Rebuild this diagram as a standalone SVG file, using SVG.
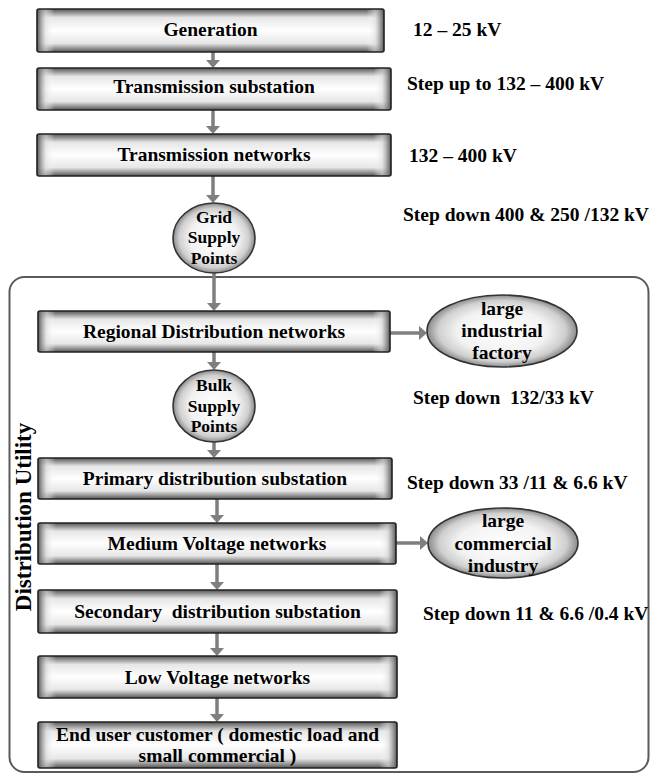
<svg xmlns="http://www.w3.org/2000/svg" width="655" height="773" viewBox="0 0 655 773" font-family="'Liberation Serif', 'Times New Roman', serif">
<style>
.t,.r,.c{font-weight:bold;fill:#000}
.t{font-size:19.5px;text-anchor:middle;white-space:pre}
.r{font-size:19.5px;text-anchor:start;white-space:pre}
.c{font-size:17.5px;text-anchor:middle}
.bv{fill:url(#gv)}
.bh{fill:url(#gh)}
.bs{fill:none;stroke:#222;stroke-width:1.6}
.el{fill:url(#gr);stroke:#333;stroke-width:1.6}
.ar{stroke:#7f7f7f;stroke-width:3.5;fill:none;marker-end:url(#ah)}
.frame{fill:none;stroke:#5a5a5a;stroke-width:2}
</style>
<defs>
<linearGradient id="gv" x1="0" y1="0" x2="0" y2="1">
<stop offset="0" stop-color="#555"/>
<stop offset="0.2" stop-color="#e6e6e6"/>
<stop offset="0.5" stop-color="#fff"/>
<stop offset="0.8" stop-color="#e6e6e6"/>
<stop offset="1" stop-color="#555"/>
</linearGradient>
<linearGradient id="gh" x1="0" y1="0" x2="1" y2="0">
<stop offset="0" stop-color="#555" stop-opacity="1"/>
<stop offset="0.025" stop-color="#ddd" stop-opacity="0.6"/>
<stop offset="0.05" stop-color="#fff" stop-opacity="0"/>
<stop offset="0.95" stop-color="#fff" stop-opacity="0"/>
<stop offset="0.975" stop-color="#ddd" stop-opacity="0.6"/>
<stop offset="1" stop-color="#555" stop-opacity="1"/>
</linearGradient>
<radialGradient id="gr" cx="0.5" cy="0.5" r="0.5">
<stop offset="0" stop-color="#fff"/>
<stop offset="0.6" stop-color="#f2f2f2"/>
<stop offset="0.85" stop-color="#cfcfcf"/>
<stop offset="1" stop-color="#8a8a8a"/>
</radialGradient>
<marker id="ah" viewBox="0 0 8 14" refX="4" refY="7" markerWidth="8" markerHeight="14" markerUnits="userSpaceOnUse" orient="auto">
<path d="M0,0 L8,7 L0,14 z" fill="#7f7f7f"/>
</marker>
</defs>

<g id="frame">
<rect class="frame" x="9.5" y="277" width="639" height="495" rx="15"/>
<text class="t" font-family="Liberation Serif" style="font-size:23px" transform="translate(31,517) rotate(-90)">Distribution Utility</text>
</g>

<g id="connectors">
<line class="ar" x1="213" y1="52" x2="213" y2="64"/>
<line class="ar" x1="213" y1="110" x2="213" y2="130"/>
<line class="ar" x1="213" y1="176" x2="213" y2="199"/>
<line class="ar" x1="214" y1="273" x2="214" y2="307"/>
<line class="ar" x1="214" y1="352" x2="214" y2="366"/>
<line class="ar" x1="214" y1="442" x2="214" y2="454"/>
<line class="ar" x1="217" y1="499" x2="217" y2="519"/>
<line class="ar" x1="217" y1="564" x2="217" y2="586"/>
<line class="ar" x1="217" y1="633" x2="217" y2="652"/>
<line class="ar" x1="217" y1="698" x2="217" y2="718"/>
<line class="ar" x1="390" y1="333" x2="423" y2="333"/>
<line class="ar" x1="396" y1="543" x2="424" y2="543"/>
</g>

<g id="generation">
<rect class="bv" x="37" y="9" width="347" height="43" rx="2"/>
<rect class="bh" x="37" y="9" width="347" height="43" rx="2"/>
<rect class="bs" x="37" y="9" width="347" height="43" rx="2"/>
<text class="t" x="210.5" y="36">Generation</text>
</g>
<g id="transmission-substation">
<rect class="bv" x="37" y="68" width="354" height="42" rx="2"/>
<rect class="bh" x="37" y="68" width="354" height="42" rx="2"/>
<rect class="bs" x="37" y="68" width="354" height="42" rx="2"/>
<text class="t" x="214" y="93">Transmission substation</text>
</g>
<g id="transmission-networks">
<rect class="bv" x="37" y="134" width="354" height="42" rx="2"/>
<rect class="bh" x="37" y="134" width="354" height="42" rx="2"/>
<rect class="bs" x="37" y="134" width="354" height="42" rx="2"/>
<text class="t" x="214" y="161">Transmission networks</text>
</g>
<g id="grid-supply-points">
<ellipse class="el" cx="214" cy="238" rx="41" ry="35"/>
<text class="c" x="214" y="223">Grid</text>
<text class="c" x="214" y="243">Supply</text>
<text class="c" x="214" y="264">Points</text>
</g>
<g id="regional-distribution">
<rect class="bv" x="38" y="311" width="352" height="41" rx="2"/>
<rect class="bh" x="38" y="311" width="352" height="41" rx="2"/>
<rect class="bs" x="38" y="311" width="352" height="41" rx="2"/>
<text class="t" x="214" y="338">Regional Distribution networks</text>
</g>
<g id="large-industrial-factory">
<ellipse class="el" cx="502" cy="331" rx="75" ry="36"/>
<text class="t" x="502" y="315">large</text>
<text class="t" x="502" y="337">industrial</text>
<text class="t" x="502" y="359">factory</text>
</g>
<g id="bulk-supply-points">
<ellipse class="el" cx="214" cy="406" rx="41" ry="36"/>
<text class="c" x="214" y="391">Bulk</text>
<text class="c" x="214" y="412">Supply</text>
<text class="c" x="214" y="432">Points</text>
</g>
<g id="primary-distribution">
<rect class="bv" x="38" y="458" width="354" height="41" rx="2"/>
<rect class="bh" x="38" y="458" width="354" height="41" rx="2"/>
<rect class="bs" x="38" y="458" width="354" height="41" rx="2"/>
<text class="t" x="215" y="485">Primary distribution substation</text>
</g>
<g id="medium-voltage">
<rect class="bv" x="38" y="523" width="358" height="41" rx="2"/>
<rect class="bh" x="38" y="523" width="358" height="41" rx="2"/>
<rect class="bs" x="38" y="523" width="358" height="41" rx="2"/>
<text class="t" x="217" y="550">Medium Voltage networks</text>
</g>
<g id="large-commercial-industry">
<ellipse class="el" cx="503" cy="543" rx="75" ry="35"/>
<text class="t" x="503" y="527">large</text>
<text class="t" x="503" y="550">commercial</text>
<text class="t" x="503" y="572">industry</text>
</g>
<g id="secondary-distribution">
<rect class="bv" x="38" y="590" width="359" height="43" rx="2"/>
<rect class="bh" x="38" y="590" width="359" height="43" rx="2"/>
<rect class="bs" x="38" y="590" width="359" height="43" rx="2"/>
<text class="t" x="217.5" y="618">Secondary  distribution substation</text>
</g>
<g id="low-voltage">
<rect class="bv" x="38" y="656" width="359" height="42" rx="2"/>
<rect class="bh" x="38" y="656" width="359" height="42" rx="2"/>
<rect class="bs" x="38" y="656" width="359" height="42" rx="2"/>
<text class="t" x="217.5" y="684">Low Voltage networks</text>
</g>
<g id="end-user">
<rect class="bv" x="38" y="722" width="359" height="46" rx="2"/>
<rect class="bh" x="38" y="722" width="359" height="46" rx="2"/>
<rect class="bs" x="38" y="722" width="359" height="46" rx="2"/>
<text class="t" x="217.5" y="741">End user customer ( domestic load and</text>
<text class="t" x="217.5" y="762">small commercial )</text>
</g>

<g id="voltage-labels">
<text class="r" x="413" y="36">12 – 25 kV</text>
<text class="r" x="407" y="90">Step up to 132 – 400 kV</text>
<text class="r" x="409" y="162">132 – 400 kV</text>
<text class="r" x="403" y="221">Step down 400 &amp; 250 /132 kV</text>
<text class="r" x="413" y="404">Step down  132/33 kV</text>
<text class="r" x="407" y="489">Step down 33 /11 &amp; 6.6 kV</text>
<text class="r" x="423" y="620">Step down 11 &amp; 6.6 /0.4 kV</text>
</g>
</svg>
